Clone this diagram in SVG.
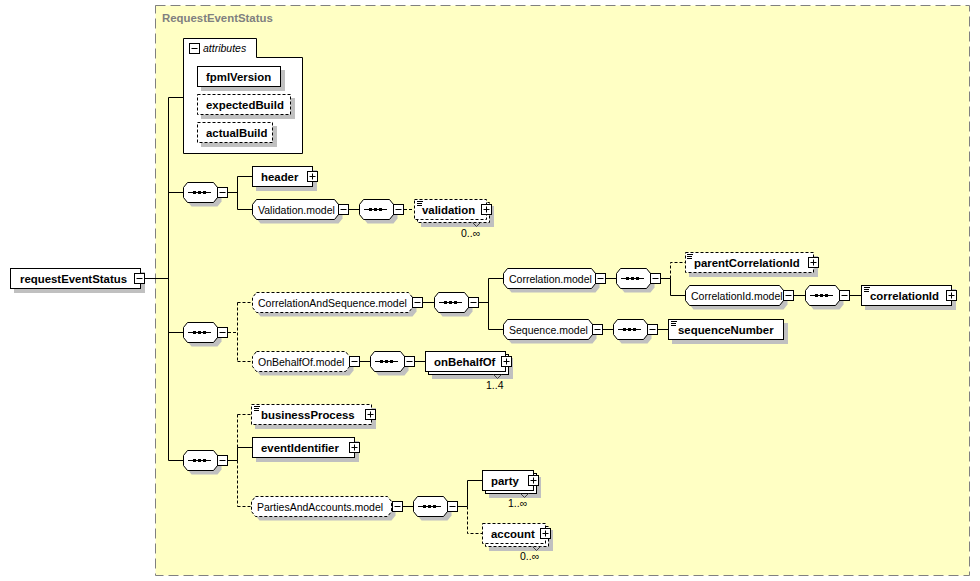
<svg xmlns="http://www.w3.org/2000/svg" xmlns:xlink="http://www.w3.org/1999/xlink" width="980" height="581" viewBox="0 0 980 581">
<style>
.bg{fill:#fff}
.box{fill:#fff;stroke:#000;stroke-width:1}
.d{stroke-dasharray:3,2}
.sh{fill:#c0c0c0}
.ln{fill:none;stroke:#000;stroke-width:1}
.el{font-family:"Liberation Sans",Arial,sans-serif;font-weight:bold;font-size:11.4px;fill:#000}
.gr{font-family:"Liberation Sans",Arial,sans-serif;font-size:10.5px;fill:#000}
.it{font-family:"Liberation Sans",Arial,sans-serif;font-style:italic;font-size:10.5px;fill:#000}
.nt{fill:none;stroke:#404040;stroke-width:1}
</style>
<defs>
<g id="mi"><rect x="0.5" y="0.5" width="10" height="10" class="box"/><path d="M2.5,5.5h6" class="ln"/></g>
<g id="pl"><rect x="0.5" y="0.5" width="10" height="10" class="box"/><path d="M2.5,5.5h6M5.5,2.5v6" class="ln"/></g>
<g id="seq"><polygon points="8.5,4.5 34.5,4.5 38.5,9.5 38.5,19.5 34.5,24.5 8.5,24.5 4.5,19.5 4.5,9.5" class="sh"/><polygon points="4.5,0.5 30.5,0.5 34.5,5.5 34.5,15.5 30.5,20.5 4.5,20.5 0.5,15.5 0.5,5.5" class="box"/><path d="M5,10.5H28" class="ln"/><rect x="10" y="9" width="3" height="3"/><rect x="15" y="9" width="3" height="3"/><rect x="20" y="9" width="3" height="3"/></g>
<path id="doc" d="M0,0.5h6M0,2.5h5M0,4.5h5" class="ln"/>
</defs>

<g id="container">
<rect x="155.5" y="5.5" width="814" height="570" fill="#ffffc4" stroke="#808080" stroke-dasharray="10,5"/>
<text x="162" y="22" class="el" fill="#808080" style="fill:#808080">RequestEventStatus</text>
</g>

<g id="connectors">
<path class="ln" d="M145,278.5H168.5M168.5,97.5V460.5M168.5,97.5H183M168.5,192.5H183M168.5,332.5H183M168.5,460.5H183"/>
<path class="ln" d="M228,192.5H237.5M237.5,176.5V209.5M237.5,176.5H252M237.5,209.5H252"/>
<path class="ln" d="M349,209.5H359"/>
<path class="ln d" d="M404,209.5H414"/>
<path class="ln d" d="M228,332.5H237.5M237.5,302.5V361.5M237.5,302.5H252M237.5,361.5H252"/>
<path class="ln" d="M423,302.5H434M479,302.5H488.5M488.5,278.5V329.5M488.5,278.5H503M488.5,329.5H503"/>
<path class="ln" d="M606,278.5H616M661,278.5H670.5M670.5,278.5V295.5H685"/>
<path class="ln d" d="M670.5,278.5V262.5H685"/>
<path class="ln" d="M794,295.5H805M850,295.5H861"/>
<path class="ln" d="M603,329.5H613M658,329.5H668"/>
<path class="ln" d="M360,361.5H370M415,361.5H425"/>
<path class="ln" d="M228,460.5H237.5M237.5,447.5V460.5M237.5,447.5H252"/>
<path class="ln d" d="M237.5,414.5V447.5M237.5,460.5V506.5M237.5,414.5H251M237.5,506.5H251"/>
<path class="ln" d="M403,506.5H413M458,506.5H467.5M467.5,506.5V480.5H482"/>
<path class="ln d" d="M467.5,506.5V533.5H482"/>
</g>

<g id="requestEventStatus">
<rect x="14" y="272" width="131" height="21" class="sh"/>
<rect x="10.5" y="268.5" width="130" height="20" class="box"/>
<text x="20" y="282.5" class="el">requestEventStatus</text>
<use xlink:href="#mi" x="134" y="273"/>
</g>

<g id="attributes">
<path d="M183.5,153.5V38.5H256.5V57.5H302.5V153.5Z" class="box"/>
<use xlink:href="#mi" x="189" y="43"/>
<text x="203" y="52" class="it">attributes</text>
<g id="fpmlVersion">
<rect x="201" y="70" width="84" height="21" class="sh"/>
<rect x="197.5" y="66.5" width="83" height="20" class="box"/>
<text x="206" y="81" class="el">fpmlVersion</text>
</g>
<g id="expectedBuild">
<rect x="201" y="98" width="94" height="21" class="sh"/>
<rect x="197.5" y="94.5" width="93" height="20" class="box d"/>
<text x="206" y="109" class="el">expectedBuild</text>
</g>
<g id="actualBuild">
<rect x="201" y="126" width="76" height="21" class="sh"/>
<rect x="197.5" y="122.5" width="75" height="20" class="box d"/>
<text x="206" y="137" class="el">actualBuild</text>
</g>
</g>

<g id="seq1"><use xlink:href="#seq" x="183" y="182"/><use xlink:href="#mi" x="217" y="187"/></g>

<g id="header">
<rect x="256" y="170" width="61" height="21" class="sh"/>
<rect x="252.5" y="166.5" width="60" height="20" class="box"/>
<text x="261" y="181" class="el">header</text>
<use xlink:href="#pl" x="307" y="171"/>
</g>

<g id="Validation.model">
<polygon transform="translate(4,4)" points="256.5,199.5 334.5,199.5 338.5,204.5 338.5,214.5 334.5,219.5 256.5,219.5 252.5,214.5 252.5,204.5" class="sh"/>
<polygon points="256.5,199.5 334.5,199.5 338.5,204.5 338.5,214.5 334.5,219.5 256.5,219.5 252.5,214.5 252.5,204.5" class="box"/>
<text x="258" y="213.5" class="gr">Validation.model</text>
<use xlink:href="#mi" x="338" y="204"/>
</g>

<g id="seq2"><use xlink:href="#seq" x="359" y="199"/><use xlink:href="#mi" x="393" y="204"/></g>

<g id="validation">
<rect x="421" y="206" width="73" height="21" class="sh"/>
<rect x="417.5" y="202.5" width="72" height="20" class="box d"/>
<rect x="414.5" y="199.5" width="72" height="20" class="box d"/>
<use xlink:href="#doc" x="417" y="201"/>
<text x="422" y="214" class="el">validation</text>
<use xlink:href="#pl" x="481" y="204"/>
<polyline points="472.5,222.5 476.5,226.5 480.5,222.5" class="nt"/>
<text x="461" y="237" class="gr">0..∞</text>
</g>

<g id="seq3"><use xlink:href="#seq" x="183" y="322"/><use xlink:href="#mi" x="217" y="327"/></g>

<g id="CorrelationAndSequence.model">
<polygon transform="translate(4,4)" points="256.5,292.5 408.5,292.5 412.5,297.5 412.5,307.5 408.5,312.5 256.5,312.5 252.5,307.5 252.5,297.5" class="sh"/>
<polygon points="256.5,292.5 408.5,292.5 412.5,297.5 412.5,307.5 408.5,312.5 256.5,312.5 252.5,307.5 252.5,297.5" class="box d"/>
<text x="258" y="306.5" class="gr">CorrelationAndSequence.model</text>
<use xlink:href="#mi" x="412" y="297"/>
</g>

<g id="seq4"><use xlink:href="#seq" x="434" y="292"/><use xlink:href="#mi" x="468" y="297"/></g>

<g id="Correlation.model">
<polygon transform="translate(4,4)" points="507.5,268.5 591.5,268.5 595.5,273.5 595.5,283.5 591.5,288.5 507.5,288.5 503.5,283.5 503.5,273.5" class="sh"/>
<polygon points="507.5,268.5 591.5,268.5 595.5,273.5 595.5,283.5 591.5,288.5 507.5,288.5 503.5,283.5 503.5,273.5" class="box"/>
<text x="509" y="282.5" class="gr">Correlation.model</text>
<use xlink:href="#mi" x="595" y="273"/>
</g>

<g id="seq5"><use xlink:href="#seq" x="616" y="268"/><use xlink:href="#mi" x="650" y="273"/></g>

<g id="parentCorrelationId">
<rect x="689" y="256" width="129" height="21" class="sh"/>
<rect x="685.5" y="252.5" width="128" height="20" class="box d"/>
<use xlink:href="#doc" x="687" y="254"/>
<text x="694" y="267" class="el">parentCorrelationId</text>
<use xlink:href="#pl" x="808" y="257"/>
</g>

<g id="CorrelationId.model">
<polygon transform="translate(4,4)" points="689.5,285.5 779.5,285.5 783.5,290.5 783.5,300.5 779.5,305.5 689.5,305.5 685.5,300.5 685.5,290.5" class="sh"/>
<polygon points="689.5,285.5 779.5,285.5 783.5,290.5 783.5,300.5 779.5,305.5 689.5,305.5 685.5,300.5 685.5,290.5" class="box"/>
<text x="691" y="299.5" class="gr">CorrelationId.model</text>
<use xlink:href="#mi" x="783" y="290"/>
</g>

<g id="seq6"><use xlink:href="#seq" x="805" y="285"/><use xlink:href="#mi" x="839" y="290"/></g>

<g id="correlationId">
<rect x="865" y="289" width="91" height="21" class="sh"/>
<rect x="861.5" y="285.5" width="90" height="20" class="box"/>
<use xlink:href="#doc" x="864" y="287"/>
<text x="870" y="300" class="el">correlationId</text>
<use xlink:href="#pl" x="946" y="290"/>
</g>

<g id="Sequence.model">
<polygon transform="translate(4,4)" points="507.5,319.5 588.5,319.5 592.5,324.5 592.5,334.5 588.5,339.5 507.5,339.5 503.5,334.5 503.5,324.5" class="sh"/>
<polygon points="507.5,319.5 588.5,319.5 592.5,324.5 592.5,334.5 588.5,339.5 507.5,339.5 503.5,334.5 503.5,324.5" class="box"/>
<text x="509" y="333.5" class="gr">Sequence.model</text>
<use xlink:href="#mi" x="592" y="324"/>
</g>

<g id="seq7"><use xlink:href="#seq" x="613" y="319"/><use xlink:href="#mi" x="647" y="324"/></g>

<g id="sequenceNumber">
<rect x="672" y="323" width="116" height="21" class="sh"/>
<rect x="668.5" y="319.5" width="115" height="20" class="box"/>
<use xlink:href="#doc" x="671" y="321"/>
<text x="678" y="334" class="el">sequenceNumber</text>
</g>

<g id="OnBehalfOf.model">
<polygon transform="translate(4,4)" points="256.5,351.5 345.5,351.5 349.5,356.5 349.5,366.5 345.5,371.5 256.5,371.5 252.5,366.5 252.5,356.5" class="sh"/>
<polygon points="256.5,351.5 345.5,351.5 349.5,356.5 349.5,366.5 345.5,371.5 256.5,371.5 252.5,366.5 252.5,356.5" class="box d"/>
<text x="258" y="365.5" class="gr">OnBehalfOf.model</text>
<use xlink:href="#mi" x="349" y="356"/>
</g>

<g id="seq8"><use xlink:href="#seq" x="370" y="351"/><use xlink:href="#mi" x="404" y="356"/></g>

<g id="onBehalfOf">
<rect x="432" y="358" width="81" height="21" class="sh"/>
<rect x="428.5" y="354.5" width="80" height="20" class="box"/>
<rect x="425.5" y="351.5" width="80" height="20" class="box"/>
<text x="434" y="366" class="el">onBehalfOf</text>
<use xlink:href="#pl" x="501" y="356"/>
<polyline points="493.5,374.5 497.5,378.5 501.5,374.5" class="nt"/>
<text x="486" y="388.5" class="gr">1..4</text>
</g>

<g id="seq9"><use xlink:href="#seq" x="183" y="450"/><use xlink:href="#mi" x="217" y="455"/></g>

<g id="businessProcess">
<rect x="255" y="408" width="121" height="21" class="sh"/>
<rect x="251.5" y="404.5" width="120" height="20" class="box d"/>
<use xlink:href="#doc" x="254" y="406"/>
<text x="261" y="419" class="el">businessProcess</text>
<use xlink:href="#pl" x="365" y="409"/>
</g>

<g id="eventIdentifier">
<rect x="256" y="441" width="103" height="21" class="sh"/>
<rect x="252.5" y="437.5" width="102" height="20" class="box"/>
<text x="261" y="452" class="el">eventIdentifier</text>
<use xlink:href="#pl" x="349" y="442"/>
</g>

<g id="PartiesAndAccounts.model">
<polygon transform="translate(4,4)" points="255.5,496.5 387.5,496.5 391.5,501.5 391.5,511.5 387.5,516.5 255.5,516.5 251.5,511.5 251.5,501.5" class="sh"/>
<polygon points="255.5,496.5 387.5,496.5 391.5,501.5 391.5,511.5 387.5,516.5 255.5,516.5 251.5,511.5 251.5,501.5" class="box d"/>
<text x="257" y="510.5" class="gr">PartiesAndAccounts.model</text>
<use xlink:href="#mi" x="392" y="501"/>
</g>

<g id="seq10"><use xlink:href="#seq" x="413" y="496"/><use xlink:href="#mi" x="447" y="501"/></g>

<g id="party">
<rect x="489" y="477" width="52" height="21" class="sh"/>
<rect x="485.5" y="473.5" width="51" height="20" class="box"/>
<rect x="482.5" y="470.5" width="51" height="20" class="box"/>
<text x="491" y="485" class="el">party</text>
<use xlink:href="#pl" x="528" y="475"/>
<polyline points="520.5,493.5 524.5,497.5 528.5,493.5" class="nt"/>
<text x="508" y="507" class="gr">1..∞</text>
</g>

<g id="account">
<rect x="489" y="530" width="64" height="21" class="sh"/>
<rect x="485.5" y="526.5" width="63" height="20" class="box d"/>
<rect x="482.5" y="523.5" width="63" height="20" class="box d"/>
<text x="491" y="538" class="el">account</text>
<use xlink:href="#pl" x="540" y="528"/>
<polyline points="532.5,546.5 536.5,550.5 540.5,546.5" class="nt"/>
<text x="520" y="560" class="gr">0..∞</text>
</g>
</svg>
